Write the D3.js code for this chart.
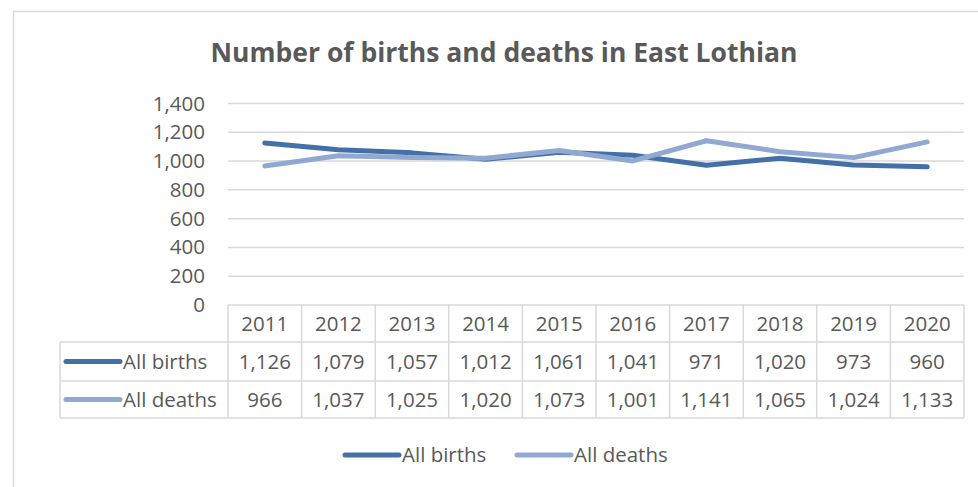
<!DOCTYPE html>
<html>
<head>
<meta charset="utf-8">
<script src="https://cdn.jsdelivr.net/npm/d3@7"></script>
<style>
  body { margin: 0; background: #fff; }
  svg { display: block; font-family: "Open Sans", Lato, sans-serif; }
</style>
</head>
<body>
<div id="chart"></div>
<script>
const years = ["2011", "2012", "2013", "2014", "2015", "2016", "2017", "2018", "2019", "2020"];
const births = [1126, 1079, 1057, 1012, 1061, 1041, 971, 1020, 973, 960];
const deaths = [966, 1037, 1025, 1020, 1073, 1001, 1141, 1065, 1024, 1133];
const yTicks = [0, 200, 400, 600, 800, 1000, 1200, 1400];
const seriesNames = ["All births", "All deaths"];
const seriesColors = ["#4470a8", "#91a9d2"];

const width = 978, height = 487;
const textColor = "#595959", gridColor = "#d9d9d9";
const fontSize = "20.5px";

const svg = d3.select("#chart").append("svg")
    .attr("width", width)
    .attr("height", height);

// chart area border (runs off the right and bottom edge)
svg.append("rect")
    .attr("x", 13.5).attr("y", 11.5)
    .attr("width", 1000).attr("height", 500)
    .attr("fill", "#fff")
    .attr("stroke", gridColor)
    .attr("stroke-width", 1.5);

svg.append("text")
    .attr("x", 504).attr("y", 61.5)
    .attr("text-anchor", "middle")
    .attr("font-size", "26.5px")
    .attr("font-weight", "bold")
    .attr("fill", textColor)
    .text("Number of births and deaths in East Lothian");

const x = d3.scaleBand().domain(years).range([228, 964]);
const y = d3.scaleLinear().domain([0, 1400]).range([305, 103.5]);

// gridlines
svg.append("g")
    .selectAll("line")
    .data(yTicks.filter(d => d > 0))
    .join("line")
    .attr("x1", x.range()[0]).attr("x2", x.range()[1])
    .attr("y1", d => y(d)).attr("y2", d => y(d))
    .attr("stroke", gridColor)
    .attr("stroke-width", 1.5);

// y axis labels
const yAxis = svg.append("g")
    .attr("transform", `translate(${x.range()[0]},0)`)
    .call(d3.axisLeft(y).tickValues(yTicks).tickSize(0).tickPadding(23).tickFormat(d3.format(",")));
yAxis.select(".domain").remove();
yAxis.selectAll("text")
    .attr("font-size", fontSize)
    .attr("font-family", "'Open Sans', sans-serif")
    .attr("fill", textColor);

// lines
const series = [births, deaths];
const line = d3.line()
    .x((d, i) => x(years[i]) + x.bandwidth() / 2)
    .y(d => y(d));

series.forEach((vals, s) => {
    svg.append("path")
        .datum(vals)
        .attr("d", line)
        .attr("fill", "none")
        .attr("stroke", seriesColors[s])
        .attr("stroke-width", 5)
        .attr("stroke-linecap", "round")
        .attr("stroke-linejoin", "round");
});

// data table
const rowEdges = [305, 342, 381, 418];
const tableLeft = 60;
const tg = svg.append("g").attr("stroke", gridColor).attr("stroke-width", 1.5);

// horizontal rules
rowEdges.forEach((ry, i) => {
    tg.append("line")
        .attr("x1", i === 0 ? x.range()[0] : tableLeft)
        .attr("x2", x.range()[1])
        .attr("y1", ry).attr("y2", ry);
});
// vertical rules
tg.append("line")
    .attr("x1", tableLeft).attr("x2", tableLeft)
    .attr("y1", rowEdges[1]).attr("y2", rowEdges[3]);
years.forEach(yr => {
    tg.append("line")
        .attr("x1", x(yr)).attr("x2", x(yr))
        .attr("y1", rowEdges[0]).attr("y2", rowEdges[3]);
});
tg.append("line")
    .attr("x1", x.range()[1]).attr("x2", x.range()[1])
    .attr("y1", rowEdges[0]).attr("y2", rowEdges[3]);

const cellText = svg.append("g")
    .attr("font-size", fontSize)
    .attr("fill", textColor)
    .attr("text-anchor", "middle");

cellText.selectAll(".yr")
    .data(years)
    .join("text")
    .attr("class", "yr")
    .attr("x", d => x(d) + x.bandwidth() / 2)
    .attr("y", (rowEdges[0] + rowEdges[1]) / 2 + 7)
    .text(d => d);

series.forEach((vals, s) => {
    const cy = (rowEdges[s + 1] + rowEdges[s + 2]) / 2;
    cellText.append("g")
        .selectAll("text")
        .data(vals)
        .join("text")
        .attr("x", (d, i) => x(years[i]) + x.bandwidth() / 2)
        .attr("y", cy + 7)
        .text(d => d3.format(",")(d));

    svg.append("line")
        .attr("x1", 66).attr("x2", 120)
        .attr("y1", cy).attr("y2", cy)
        .attr("stroke", seriesColors[s])
        .attr("stroke-width", 5)
        .attr("stroke-linecap", "round");
    svg.append("text")
        .attr("x", 123).attr("y", cy + 7)
        .attr("font-size", fontSize)
        .attr("fill", textColor)
        .text(seriesNames[s]);
});

// legend
const legendX = [343, 515];
seriesNames.forEach((name, s) => {
    svg.append("line")
        .attr("x1", legendX[s] + 2).attr("x2", legendX[s] + 56)
        .attr("y1", 455).attr("y2", 455)
        .attr("stroke", seriesColors[s])
        .attr("stroke-width", 5)
        .attr("stroke-linecap", "round");
    svg.append("text")
        .attr("x", legendX[s] + 59).attr("y", 462)
        .attr("font-size", fontSize)
        .attr("fill", textColor)
        .text(name);
});
</script>
</body>
</html>
